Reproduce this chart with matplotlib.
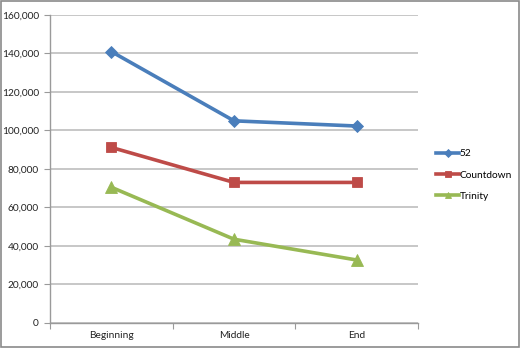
import matplotlib
matplotlib.use("Agg")
import matplotlib.pyplot as plt
from matplotlib.ticker import FuncFormatter, FixedLocator

plt.rcParams["font.family"] = ["Lato", "DejaVu Sans"]

# Story section positions and counts per series
sections = ["Beginning", "Middle", "End"]
series_52 = [141000, 105000, 102300]
series_countdown = [91200, 73000, 73000]
series_trinity = [70500, 43500, 32700]

fig = plt.figure(figsize=(5.2, 3.48), dpi=100)
fig.patch.set_facecolor("white")
ax = fig.add_axes([0.096, 0.072, 0.708, 0.885])

x = [0.5, 1.5, 2.5]
styles = [
    ("52", series_52, "#4a7ebb", "D", 6),
    ("Countdown", series_countdown, "#be4b48", "s", 7),
    ("Trinity", series_trinity, "#98b954", "^", 8),
]
for label, vals, color, marker, ms in styles:
    ax.plot(x, vals, color=color, lw=2.6, marker=marker, markersize=ms,
            markeredgecolor=color, markeredgewidth=0.6, label=label, zorder=3)

ax.set_xlim(0, 3)
ax.set_ylim(0, 160000)
ax.set_yticks(range(0, 160001, 20000))
ax.yaxis.set_major_formatter(FuncFormatter(lambda v, p: f"{int(v):,}"))
ax.xaxis.set_major_locator(FixedLocator([0, 1, 2, 3]))
ax.set_xticklabels([])
ax.xaxis.set_minor_locator(FixedLocator(x))
ax.set_xticklabels(sections, minor=True)
ax.tick_params(axis="x", which="minor", length=0, labelsize=7.3, pad=6, colors="#222222")
ax.tick_params(axis="x", which="major", length=4, direction="out", color="#9a9a9a")
ax.tick_params(axis="y", length=4, direction="out", color="#9a9a9a", labelsize=7.3,
               labelcolor="#222222", pad=4)

ax.grid(axis="y", color="#b8b8b8", lw=1.1)
ax.set_axisbelow(True)
for s in ["top", "right"]:
    ax.spines[s].set_visible(False)
for s in ["left", "bottom"]:
    ax.spines[s].set_color("#9a9a9a")
    ax.spines[s].set_linewidth(1.0)

leg = ax.legend(loc="center left", bbox_to_anchor=(1.025, 0.48), frameon=False,
                fontsize=7.3, handlelength=2.2, handletextpad=0.1, labelspacing=1.2)
for line in leg.get_lines():
    line.set_markersize(4.5)

# Outer frame
fig.add_artist(plt.Rectangle((0.002, 0.003), 0.996, 0.994, transform=fig.transFigure,
                             fill=False, edgecolor="#8a8a8a", lw=1.2))

fig.savefig("out.png", dpi=100)
